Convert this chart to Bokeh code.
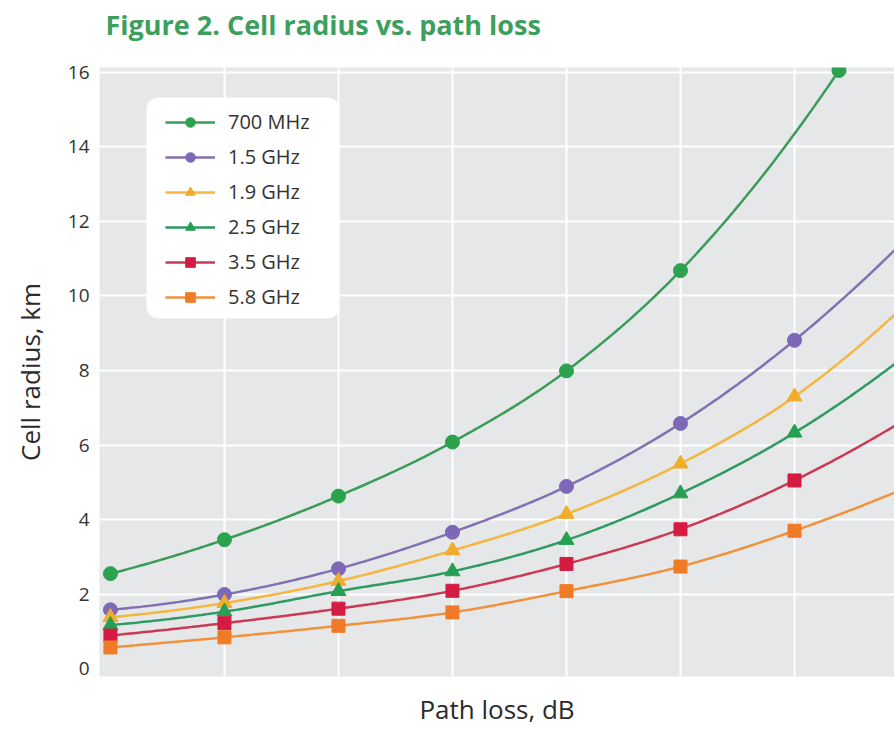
import numpy as np
from bokeh.plotting import figure
from bokeh.models import Range1d, FixedTicker, Legend, LegendItem, BoxAnnotation, Title
from bokeh.embed import file_html
from bokeh.resources import INLINE

# ---------------- data ----------------
title_text = "Figure 2. Cell radius vs. path loss"
labels = ["700 MHz", "1.5 GHz", "1.9 GHz", "2.5 GHz", "3.5 GHz", "5.8 GHz"]
steps = [0, 1, 2, 3, 4, 5, 6, 7]               # path-loss steps (no tick labels in original)
steps_700 = [0, 1, 2, 3, 4, 5, 6.39]
r_700 = [2.55, 3.46, 4.63, 6.08, 7.99, 10.68, 16.05]
r_1500 = [1.58, 1.99, 2.68, 3.66, 4.89, 6.58, 8.81, 11.6]
r_1900 = [1.38, 1.76, 2.35, 3.17, 4.15, 5.50, 7.30, 9.85]
r_2500 = [1.17, 1.53, 2.08, 2.61, 3.45, 4.70, 6.33, 8.46]
r_3500 = [0.89, 1.22, 1.61, 2.09, 2.81, 3.74, 5.05, 6.74]
r_5800 = [0.57, 0.84, 1.15, 1.51, 2.08, 2.74, 3.70, 4.88]
y_ticks = [0, 2, 4, 6, 8, 10, 12, 14, 16]

# ---------------- styles ----------------
styles = [
    ("#3a9c58", "#2ca14e", "circle", 14),
    ("#8271b2", "#7c68b6", "circle", 14),
    ("#f4b63e", "#f2ac2c", "triangle", 15),
    ("#2f9a62", "#25a052", "triangle", 15),
    ("#c93a55", "#d41c43", "square", 13),
    ("#f0923c", "#f07b27", "square", 13),
]
xs_all = [steps_700, steps, steps, steps, steps, steps]
ys_all = [r_700, r_1500, r_1900, r_2500, r_3500, r_5800]


def smooth(xs, ys, n=40):
    xs = np.asarray(xs, float)
    ys = np.asarray(ys, float)
    h = np.diff(xs)
    d = np.diff(ys) / h
    m = np.empty_like(ys)
    m[1:-1] = (h[1:] * d[:-1] + h[:-1] * d[1:]) / (h[:-1] + h[1:])
    m[0] = max(2 * d[0] - m[1], 0.0) if len(ys) > 2 else d[0]
    m[-1] = 2 * d[-1] - m[-2] if len(ys) > 2 else d[-1]
    ox, oy = [], []
    for i in range(len(xs) - 1):
        t = np.linspace(0, 1, n, endpoint=(i == len(xs) - 2))
        h00 = 2 * t**3 - 3 * t**2 + 1
        h10 = t**3 - 2 * t**2 + t
        h01 = -2 * t**3 + 3 * t**2
        h11 = t**3 - t**2
        ox.extend(xs[i] + t * h[i])
        oy.extend(h00 * ys[i] + h10 * h[i] * m[i] + h01 * ys[i + 1] + h11 * h[i] * m[i + 1])
    return ox, oy


p = figure(
    width=894, height=729, title=None,
    output_backend="svg", toolbar_location=None,
    x_range=Range1d(-0.096, 6.877), y_range=Range1d(-0.21, 16.13),
    min_border_left=99, min_border_right=0, min_border_top=67, min_border_bottom=53,
)
p.background_fill_color = "#e6e7e8"
p.border_fill_color = "white"
p.outline_line_color = None

# title: an invisible spacer panel next to the frame, the real title above it
spacer = Title(text=" ", text_font="Open Sans", text_font_size="12px", standoff=6)
p.add_layout(spacer, "above")
main_title = Title(text=title_text, text_font="Open Sans", text_font_style="bold",
                   text_font_size="27px", text_color="#3d9f5d", align="left",
                   offset=6, standoff=0)
p.add_layout(main_title, "above")

# grids
p.xgrid.ticker = FixedTicker(ticks=[1, 2, 3, 4, 5, 6])
p.ygrid.ticker = FixedTicker(ticks=[2, 4, 6, 8, 10, 12, 14, 16])
p.grid.grid_line_color = "white"
p.grid.grid_line_width = 2

# axes
p.xaxis.ticker = FixedTicker(ticks=[1, 2, 3, 4, 5, 6])
p.xaxis.major_label_overrides = {i: "" for i in range(1, 7)}
p.xaxis.major_label_text_font_size = "1px"
p.xaxis.major_label_standoff = 0
p.yaxis.ticker = FixedTicker(ticks=y_ticks)
for ax in (p.xaxis[0], p.yaxis[0]):
    ax.axis_line_color = None
    ax.major_tick_line_color = None
    ax.minor_tick_line_color = None
    ax.major_tick_out = 0
    ax.major_tick_in = 0
    ax.minor_tick_out = 0
    ax.minor_tick_in = 0
    ax.axis_label_text_font = "Open Sans"
    ax.axis_label_text_font_style = "normal"
    ax.axis_label_text_font_size = "26px"
    ax.axis_label_text_color = "#2b2b2b"
p.yaxis.major_label_text_font = "Open Sans"
p.yaxis.major_label_text_font_size = "19px"
p.yaxis.major_label_text_color = "#333333"
p.yaxis.major_label_standoff = 10
p.yaxis.axis_label = "Cell radius, km"
p.yaxis.axis_label_standoff = 17
p.xaxis.axis_label = "Path loss, dB"
p.xaxis.axis_label_standoff = 14

# white rounded legend panel (screen units, relative to the plot frame)
panel = BoxAnnotation(left=47, right=240, bottom=358, top=579,
                      left_units="screen", right_units="screen",
                      bottom_units="screen", top_units="screen",
                      fill_color="white", fill_alpha=1.0, line_color=None)
try:
    panel.border_radius = 12
except Exception:
    pass
p.add_layout(panel)

items = []
for lab, xs, ys, (lc, mc, mk, sz) in zip(labels, xs_all, ys_all, styles):
    sx, sy = smooth(xs, ys)
    ln = p.line(sx, sy, line_color=lc, line_width=2.5)
    sc = p.scatter(xs, ys, marker=mk, size=sz, fill_color=mc, line_color=mc)
    items.append(LegendItem(label=lab, renderers=[ln, sc]))

legend = Legend(items=items, location=(66, 366))
legend.glyph_width = 50
legend.glyph_height = 24
legend.label_height = 24
legend.spacing = 8
legend.padding = 0
legend.margin = 0
legend.label_standoff = 13
legend.label_text_font = "Open Sans"
legend.label_text_font_size = "20px"
legend.label_text_color = "#333333"
legend.border_line_color = None
legend.background_fill_alpha = 0.0
p.add_layout(legend, "center")

open("out.html", "w").write(file_html(p, INLINE))
